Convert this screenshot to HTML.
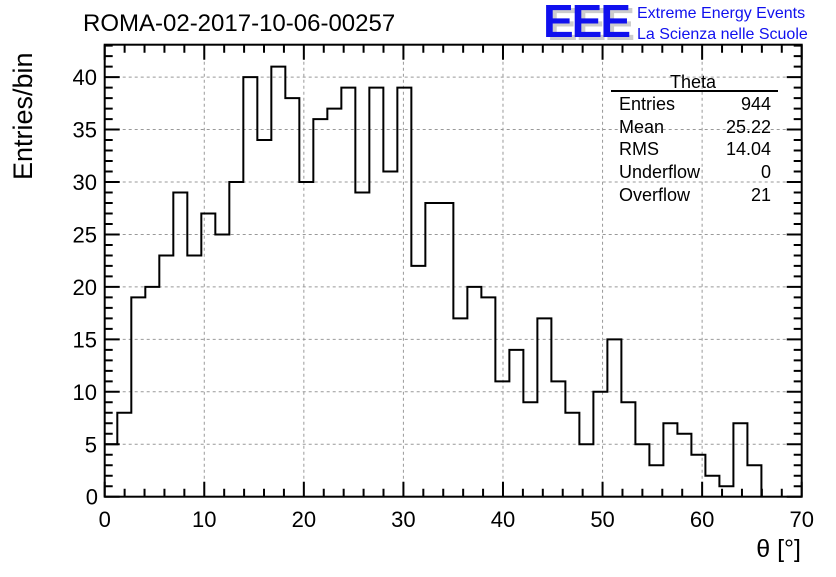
<!DOCTYPE html>
<html><head><meta charset="utf-8"><style>
body{margin:0;background:#fff;}
svg text{font-family:"Liberation Sans",sans-serif;}
</style></head><body>
<svg id="c" width="836" height="572" xmlns="http://www.w3.org/2000/svg">
<g id="grid"></g>
<g id="ticks"></g>
<path id="hist" fill="none" stroke="#000" stroke-width="2"/>
<rect x="104.7" y="44.7" width="697" height="452" fill="none" stroke="#000" stroke-width="2"/>
<text x="83" y="31" font-size="24">ROMA-02-2017-10-06-00257</text>
<text transform="translate(32,180) rotate(-90)" font-size="27">Entries/bin</text>
<text x="801" y="557" font-size="25" text-anchor="end">θ [°]</text>
<g>
<text x="547" y="40" font-size="46" font-weight="bold" fill="#ccc" letter-spacing="-2">EEE</text>
<text x="543" y="37" font-size="46" font-weight="bold" fill="#1010ee" letter-spacing="-2">EEE</text>
<text x="637" y="18" font-size="16" fill="#1010ee">Extreme Energy Events</text>
<text x="637" y="39" font-size="16" fill="#1010ee">La Scienza nelle Scuole</text>
</g>
<g font-size="18">
<text x="693" y="88" text-anchor="middle">Theta</text>
<line x1="611" y1="91" x2="778" y2="91" stroke="#000" stroke-width="2"/>
<text x="619" y="110">Entries</text><text x="771" y="110" text-anchor="end">944</text>
<text x="619" y="133">Mean</text><text x="771" y="133" text-anchor="end">25.22</text>
<text x="619" y="155">RMS</text><text x="771" y="155" text-anchor="end">14.04</text>
<text x="619" y="178">Underflow</text><text x="771" y="178" text-anchor="end">0</text>
<text x="619" y="201">Overflow</text><text x="771" y="201" text-anchor="end">21</text>
</g>
</svg>
<script>
const counts=[5,8,19,20,23,29,23,27,25,30,40,34,41,38,30,36,37,39,29,39,31,39,22,28,28,17,20,19,11,14,9,17,11,8,5,10,15,9,5,3,7,6,4,2,1,7,3];
const binStart=-0.14;
const binWidth=1.40625;
const xTicks=[0,10,20,30,40,50,60,70];
const yTicks=[0,5,10,15,20,25,30,35,40];
const X0=104.7,X1=801.7,Y0=496.7,Y1=44.7,XMAX=70,YMAX=43.09;
const sx=v=>X0+(v/XMAX)*(X1-X0);
const sy=v=>Y0-(v/YMAX)*(Y0-Y1);
const NS="http://www.w3.org/2000/svg";
function mk(tag,attrs,parent){const e=document.createElementNS(NS,tag);for(const k in attrs)e.setAttribute(k,attrs[k]);parent.appendChild(e);return e;}
const grid=document.getElementById('grid'),ticks=document.getElementById('ticks'),svg=document.getElementById('c');
xTicks.forEach(t=>{
 if(t>0&&t<XMAX){const l=mk('line',{x1:sx(t),x2:sx(t),y1:Y0,y2:Y1,stroke:'#999','stroke-dasharray':'3,3'},grid);
 
 }
 const tx=mk('text',{x:sx(t),y:527,'font-size':22,'text-anchor':'middle'},svg);tx.textContent=t;
 
 
});
yTicks.forEach(t=>{
 if(t>0){const l=mk('line',{x1:X0,x2:X1,y1:sy(t),y2:sy(t),stroke:'#999','stroke-dasharray':'3,3'},grid);
 
 }
 const tx=mk('text',{x:t===0?98:97,y:sy(t)+8,'font-size':22,'text-anchor':'end'},svg);tx.textContent=t;
 
 
});
let d='';
for(let v=0;v<=XMAX;v+=2){const L=v%10===0?15:8;
 d+=`M${sx(v)},${Y0}v${-L}M${sx(v)},${Y1}v${L}`;}
for(let v=0;v<=43;v+=1){const L=v%5===0?15:8;
 d+=`M${X0},${sy(v)}h${L}M${X1},${sy(v)}h${-L}`;}
const tp=mk('path',{d:d,stroke:'#000','stroke-width':2,fill:'none'},ticks);


let p=`M${sx(0)},${sy(counts[0])}`;
counts.forEach((c,i)=>{
 const a=Math.max(0,binStart+i*binWidth),b=binStart+(i+1)*binWidth;
 if(i>0)p+=`L${sx(a)},${sy(c)}`;
 p+=`L${sx(b)},${sy(c)}`;
 const nxt=i+1<counts.length?counts[i+1]:0;
 p+=`L${sx(b)},${sy(nxt)}`;
});
document.getElementById('hist').setAttribute('d',p);
</script>
</body></html>
